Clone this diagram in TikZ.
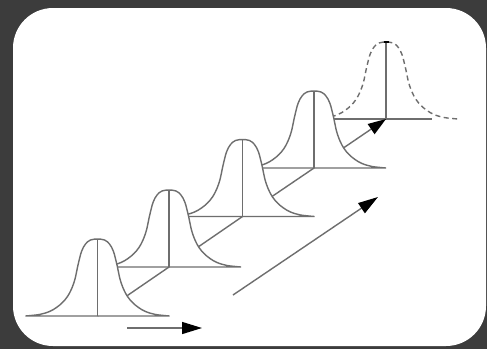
\documentclass[tikz,border=0pt]{standalone}
\usetikzlibrary{arrows.meta}
\definecolor{bgdark}{HTML}{3C3C3C}
\definecolor{linegray}{HTML}{6E6E6E}
\tikzset{
  curve/.style={draw=linegray, line width=1.4pt},
  conn/.style={draw=linegray, line width=1.4pt},
  arr/.style={draw=linegray, line width=1.4pt,
    -{Triangle[length=20pt,width=12pt,color=black,fill=black]}},
  dashcurve/.style={draw=linegray, line width=1.4pt, dash pattern=on 5pt off 3.5pt},
  pics/bell/.style={code={
    \path[fill=white, curve] plot[smooth, tension=0.55] coordinates {
      (-72,0) (-58,-1.5) (-48,-4.5) (-41,-8.5) (-35,-13.5) (-30,-19.5) (-26,-27)
      (-22.5,-37) (-19.5,-51) (-16,-64.5) (-12,-72) (-7,-76) (0,-77)
      (7,-76) (12,-72) (16,-64.5) (19.5,-51) (22.5,-37) (26,-27) (30,-19.5)
      (35,-13.5) (41,-8.5) (48,-4.5) (58,-1.5) (72,0)} -- cycle;
    \draw[curve] (0,0) -- (0,-77);
  }},
}
\begin{document}
\begin{tikzpicture}[x=1pt, y=-1pt]
  % background
  \fill[bgdark] (0,0) rectangle (487,349);
  \fill[white, rounded corners=40pt] (13,8) rectangle (486,346);
  \useasboundingbox (0,0) rectangle (487,349);

  % bell centres
  \coordinate (b1) at (97.5,316);
  \coordinate (b2) at (169,267);
  \coordinate (b3) at (242.5,216.5);
  \coordinate (b4) at (314,168);
  \coordinate (b5) at (386,119);

  % bell 5 (dashed, back-most)
  \begin{scope}[shift={(b5)}]
    \draw[dashcurve] plot[smooth, tension=0.55] coordinates {
      (-72,0) (-58,-1.5) (-48,-4.5) (-41,-8.5) (-35,-13.5) (-30,-19.5) (-26,-27)
      (-22.5,-37) (-19.5,-51) (-16,-64.5) (-12,-72) (-7,-76) (0,-77)
      (7,-76) (12,-72) (16,-64.5) (19.5,-51) (22.5,-37) (26,-27) (30,-19.5)
      (35,-13.5) (41,-8.5) (48,-4.5) (58,-1.5) (72,0)};
    \draw[curve] (-72,0) -- (46,0);
    \draw[curve] (0,0) -- (0,-77);
    \draw[black, line width=1.6pt] (-2.5,-77) -- (2.5,-77);
  \end{scope}

  \draw[arr, -{Triangle[length=18pt,width=12pt,color=black,fill=black]}] (b4) -- (b5);
  \pic at (b4) {bell};
  \draw[conn] (b3) -- (b4);
  \pic at (b3) {bell};
  \draw[conn] (b2) -- (b3);
  \pic at (b2) {bell};
  \draw[conn] (b1) -- (b2);
  \pic at (b1) {bell};

  % free arrows
  \coordinate (a1s) at (127,328);
  \coordinate (a1e) at (202,328);
  \coordinate (a2s) at (233,295);
  \coordinate (a2e) at (378,197);
  \draw[arr] (a1s) -- (a1e);
  \draw[arr] (a2s) -- (a2e);
\end{tikzpicture}
\end{document}
